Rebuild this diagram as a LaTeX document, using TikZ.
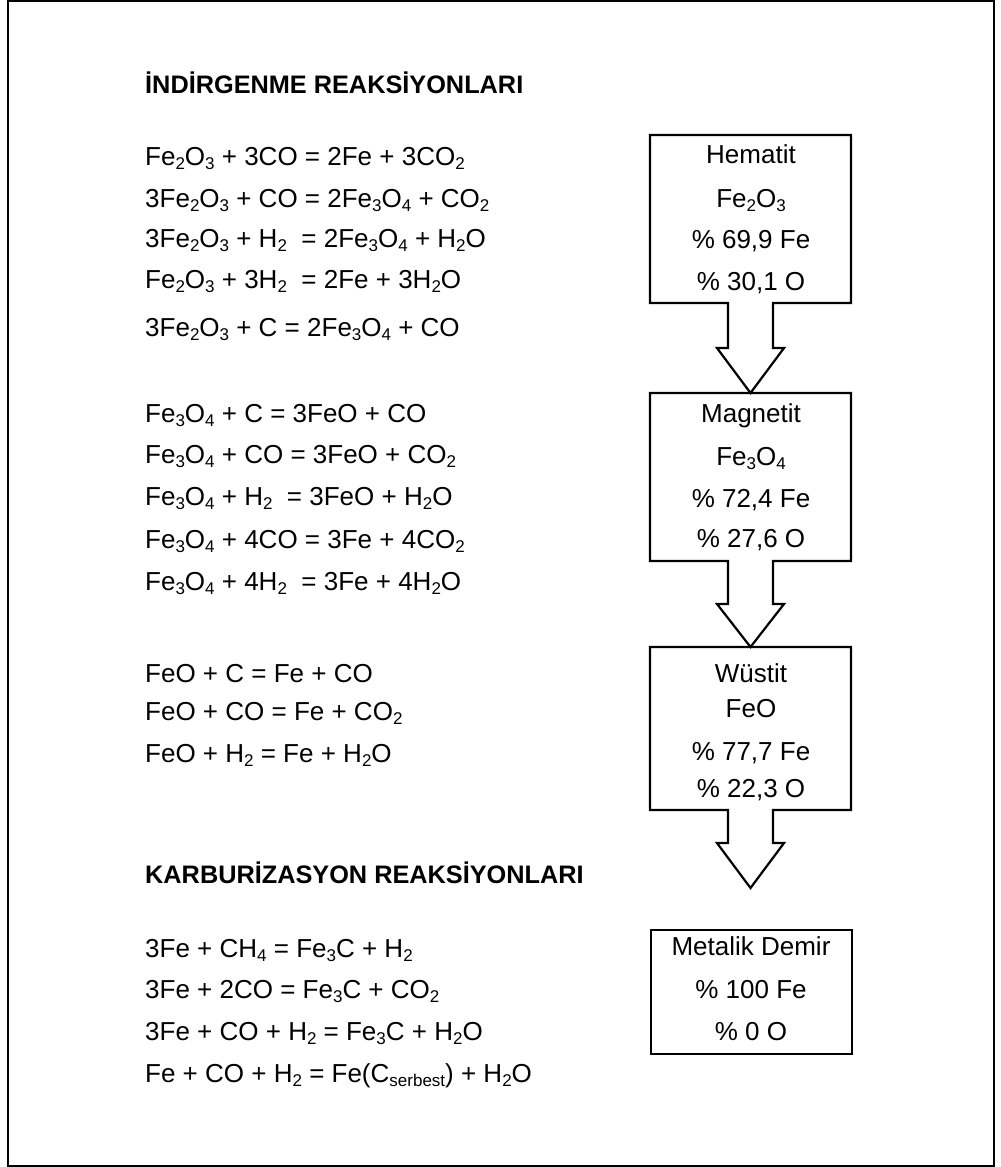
\documentclass[tikz,border=0pt]{standalone}
\usepackage{fontspec}
\setmainfont{Liberation Sans}
\newcommand{\ssb}[1]{\raisebox{-4.3pt}{\fontsize{17}{17}\selectfont #1}}
\begin{document}
\begin{tikzpicture}[x=1pt,y=-1pt,
  eq/.style={anchor=base west, inner sep=0pt, font=\fontsize{26}{30}\selectfont},
  hd/.style={anchor=base west, inner sep=0pt, font=\fontsize{25.3}{30}\selectfont\bfseries},
  bt/.style={anchor=base, inner sep=0pt, font=\fontsize{26}{30}\selectfont},
  shp/.style={draw=black, line width=2.2pt, line join=miter},
  frame/.style={draw=black, line width=1.8pt}]
\useasboundingbox (0,0) rectangle (1001,1167);
\draw[frame] (8,1) rectangle (994,1166);

% headers
\node[hd] (h1) at (145,93) {İNDİRGENME REAKSİYONLARI};
\node[hd] (h2) at (145,883) {KARBURİZASYON REAKSİYONLARI};

% reduction equations
\node[eq] (e1) at (145,165) {Fe\ssb{2}O\ssb{3} + 3CO = 2Fe + 3CO\ssb{2}};
\node[eq] (e2) at (145,207) {3Fe\ssb{2}O\ssb{3} + CO = 2Fe\ssb{3}O\ssb{4} + CO\ssb{2}};
\node[eq] (e3) at (145,247) {3Fe\ssb{2}O\ssb{3} + H\ssb{2}\ \ = 2Fe\ssb{3}O\ssb{4} + H\ssb{2}O};
\node[eq] (e4) at (145,288) {Fe\ssb{2}O\ssb{3} + 3H\ssb{2}\ \ = 2Fe + 3H\ssb{2}O};
\node[eq] (e5) at (145,336) {3Fe\ssb{2}O\ssb{3} + C = 2Fe\ssb{3}O\ssb{4} + CO};

\node[eq] (e6) at (145,422) {Fe\ssb{3}O\ssb{4} + C = 3FeO + CO};
\node[eq] (e7) at (145,463) {Fe\ssb{3}O\ssb{4} + CO = 3FeO + CO\ssb{2}};
\node[eq] (e8) at (145,505) {Fe\ssb{3}O\ssb{4} + H\ssb{2}\ \ = 3FeO + H\ssb{2}O};
\node[eq] (e9) at (145,548) {Fe\ssb{3}O\ssb{4} + 4CO = 3Fe + 4CO\ssb{2}};
\node[eq] (e10) at (145,590) {Fe\ssb{3}O\ssb{4} + 4H\ssb{2}\ \ = 3Fe + 4H\ssb{2}O};

\node[eq] (e11) at (145,682) {FeO + C = Fe + CO};
\node[eq] (e12) at (145,720) {FeO + CO = Fe + CO\ssb{2}};
\node[eq] (e13) at (145,762) {FeO + H\ssb{2} = Fe + H\ssb{2}O};

% carburization equations
\node[eq] (e14) at (145,957) {3Fe + CH\ssb{4} = Fe\ssb{3}C + H\ssb{2}};
\node[eq] (e15) at (145,998) {3Fe + 2CO = Fe\ssb{3}C + CO\ssb{2}};
\node[eq] (e16) at (145,1040) {3Fe + CO + H\ssb{2} = Fe\ssb{3}C + H\ssb{2}O};
\node[eq] (e17) at (145,1082) {Fe + CO + H\ssb{2} = Fe(C\ssb{serbest}) + H\ssb{2}O};

% callout boxes with down arrows
\draw[shp] (650,135) -- (851,135) -- (851,303) -- (773,303) -- (773,348) -- (784,348)
  -- (750.5,393) -- (717,348) -- (728,348) -- (728,303) -- (650,303) -- cycle;
\draw[shp] (650,393) -- (851,393) -- (851,561) -- (773,561) -- (773,604) -- (784,604)
  -- (750.5,647) -- (717,604) -- (728,604) -- (728,561) -- (650,561) -- cycle;
\draw[shp] (650,647) -- (851,647) -- (851,810) -- (773,810) -- (773,843) -- (784,843)
  -- (750.5,888) -- (717,843) -- (728,843) -- (728,810) -- (650,810) -- cycle;
\draw[shp] (651,930) rectangle (852,1054);

% box texts
\node[bt] (b1a) at (751,163) {Hematit};
\node[bt] (b1b) at (751,207) {Fe\ssb{2}O\ssb{3}};
\node[bt] (b1c) at (751,248) {\% 69,9 Fe};
\node[bt] (b1d) at (751,290) {\% 30,1 O};

\node[bt] (b2a) at (751,422) {Magnetit};
\node[bt] (b2b) at (751,465) {Fe\ssb{3}O\ssb{4}};
\node[bt] (b2c) at (751,507) {\% 72,4 Fe};
\node[bt] (b2d) at (751,547) {\% 27,6 O};

\node[bt] (b3a) at (751,682) {Wüstit};
\node[bt] (b3b) at (751,717) {FeO};
\node[bt] (b3c) at (751,760) {\% 77,7 Fe};
\node[bt] (b3d) at (751,797) {\% 22,3 O};

\node[bt] (b4a) at (751,955) {Metalik Demir};
\node[bt] (b4b) at (751,998) {\% 100 Fe};
\node[bt] (b4c) at (751,1040) {\% 0 O};
\end{tikzpicture}
\end{document}
